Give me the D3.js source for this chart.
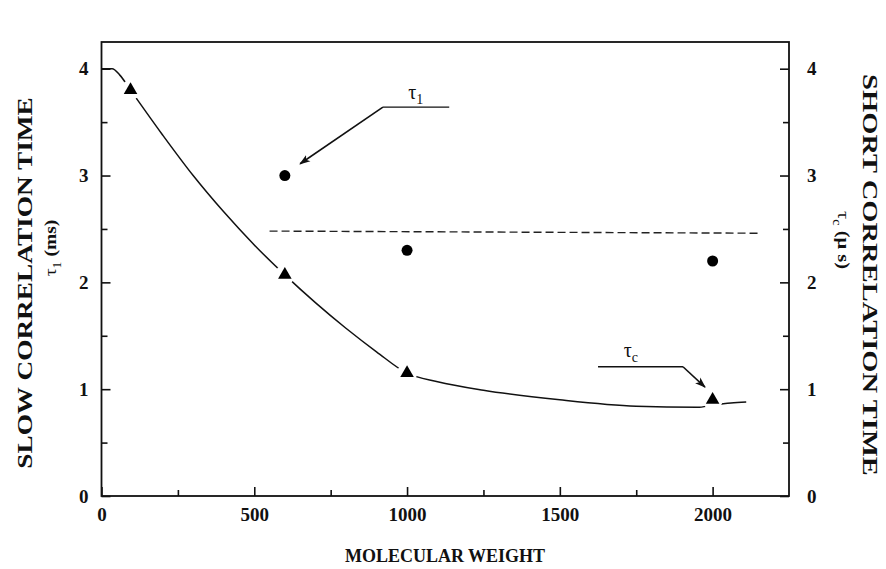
<!DOCTYPE html>
<html>
<head>
<meta charset="utf-8">
<script src="https://cdn.jsdelivr.net/npm/d3@7"></script>
<style>
  body { margin: 0; background: #fff; }
  text { font-family: "Liberation Serif", "Times New Roman", serif; fill: #111; }
  .tick text { font-size: 19px; font-weight: bold; }
</style>
</head>
<body>
<script>
// slow correlation time (circles), ms
var slowMw = [600, 1000, 2000];
var slowTau = [3.0, 2.3, 2.2];

// short correlation time (triangles), us
var shortMw = [95, 600, 1000, 2000];
var shortTau = [3.8, 2.07, 1.15, 0.9];

// hand-drawn curve through the triangles
var fitMw = [0, 35, 60, 95, 200, 300, 400, 500, 600, 700, 800, 900, 1000, 1100, 1250, 1500, 1750, 1950, 2000, 2060, 2110];
var fitTau = [4.0, 4.0, 3.94, 3.8, 3.38, 3.0, 2.66, 2.35, 2.07, 1.81, 1.57, 1.35, 1.15, 1.07, 0.99, 0.9, 0.84, 0.83, 0.85, 0.87, 0.88];

// dashed level line
var dashMw = [550, 2150];
var dashTau = [2.48, 2.46];

var xTicks = [0, 500, 1000, 1500, 2000];
var yTicks = [0, 1, 2, 3, 4];

var svgWidth = 886, svgHeight = 569;
var margin = {top: 42, right: 97, bottom: 73, left: 101.5};
var width = svgWidth - margin.left - margin.right,
	height = svgHeight - margin.top - margin.bottom;

var svg = d3.select("body").append("svg")
	.attr("width", svgWidth)
	.attr("height", svgHeight);

var g = svg.append("g")
	.attr("transform", "translate(" + margin.left + "," + margin.top + ")");

var x = d3.scaleLinear().domain([0, 2250]).range([0, width]);
var y = d3.scaleLinear().domain([0, 4.25]).range([height, 0]);

// arrow head
svg.append("defs").append("marker")
	.attr("id", "arrow")
	.attr("viewBox", "0 0 10 10")
	.attr("refX", 9).attr("refY", 5)
	.attr("markerWidth", 11).attr("markerHeight", 11)
	.attr("markerUnits", "userSpaceOnUse")
	.attr("orient", "auto")
	.append("path")
	.attr("d", "M0,1.5 L10,5 L0,8.5 L2.5,5 Z")
	.attr("fill", "#111");

// axes, ticks pointing inward
function styleAxis(sel) {
	sel.select(".domain").remove();
	sel.selectAll(".tick line").attr("stroke", "#111").attr("stroke-width", 1.6);
}

g.append("g").attr("transform", "translate(0," + height + ")")
	.call(d3.axisBottom(x).tickValues(xTicks).tickSize(-9).tickPadding(12).tickFormat(d3.format("d")))
	.call(styleAxis);
g.append("g").attr("transform", "translate(0," + height + ")")
	.call(d3.axisBottom(x).tickValues([250, 750, 1250, 1750]).tickSize(-6).tickFormat(""))
	.call(styleAxis);

g.append("g")
	.call(d3.axisLeft(y).tickValues(yTicks).tickSize(-9).tickPadding(13).tickFormat(d3.format("d")))
	.call(styleAxis);
g.append("g")
	.call(d3.axisLeft(y).tickValues([0.5, 1.5, 2.5, 3.5]).tickSize(-6).tickFormat(""))
	.call(styleAxis);

g.append("g").attr("transform", "translate(" + width + ",0)")
	.call(d3.axisRight(y).tickValues(yTicks).tickSize(-9).tickPadding(18).tickFormat(d3.format("d")))
	.call(styleAxis);
g.append("g").attr("transform", "translate(" + width + ",0)")
	.call(d3.axisRight(y).tickValues([0.5, 1.5, 2.5, 3.5]).tickSize(-6).tickFormat(""))
	.call(styleAxis);

g.selectAll(".tick text").attr("fill", "#111");

g.append("rect")
	.attr("width", width).attr("height", height)
	.attr("fill", "none").attr("stroke", "#111").attr("stroke-width", 1.8);

// fitted curve
var line = d3.line()
	.x(function(d) { return x(d[0]); })
	.y(function(d) { return y(d[1]); })
	.curve(d3.curveMonotoneX);

g.append("path")
	.datum(d3.zip(fitMw, fitTau))
	.attr("d", line)
	.attr("fill", "none")
	.attr("stroke", "#111")
	.attr("stroke-width", 1.5);

// dashed line
g.append("path")
	.datum(d3.zip(dashMw, dashTau))
	.attr("d", d3.line().x(function(d) { return x(d[0]); }).y(function(d) { return y(d[1]); }))
	.attr("fill", "none")
	.attr("stroke", "#222")
	.attr("stroke-width", 1.4)
	.attr("stroke-dasharray", "8,4");

// triangles with a white gap around them
var tri = g.selectAll(".tri")
	.data(d3.zip(shortMw, shortTau))
	.enter().append("g")
	.attr("class", "tri")
	.attr("transform", function(d) { return "translate(" + x(d[0]) + "," + y(d[1]) + ")"; });

tri.append("circle").attr("r", 10).attr("fill", "#fff");
tri.append("path")
	.attr("d", d3.symbol().type(d3.symbolTriangle).size(80))
	.attr("fill", "#000");

// circles
g.selectAll(".dot")
	.data(d3.zip(slowMw, slowTau))
	.enter().append("circle")
	.attr("class", "dot")
	.attr("cx", function(d) { return x(d[0]); })
	.attr("cy", function(d) { return y(d[1]); })
	.attr("r", 5.5)
	.attr("fill", "#000");

// annotations
function pt(mw, t) { return [x(mw), y(t)]; }

function annotate(lineA, lineB, tip, labelPos, sub) {
	g.append("path")
		.attr("d", "M" + lineB + "L" + lineA)
		.attr("fill", "none").attr("stroke", "#111").attr("stroke-width", 1.4);
	g.append("line")
		.attr("x1", lineA[0]).attr("y1", lineA[1])
		.attr("x2", tip[0]).attr("y2", tip[1])
		.attr("stroke", "#111").attr("stroke-width", 1.6)
		.attr("marker-end", "url(#arrow)");
	var t = g.append("text")
		.attr("x", labelPos[0]).attr("y", labelPos[1])
		.style("font-size", "20px");
	t.append("tspan").text("\u03c4");
	t.append("tspan").attr("dy", 5).style("font-size", "14px").text(sub);
}

annotate(pt(921, 3.64), pt(1138, 3.64), pt(650, 3.11), [x(1030) - 8, y(3.64) - 8], "1");
annotate(pt(1903, 1.21), pt(1625, 1.21), pt(1975, 1.02), [x(1735) - 8, y(1.21) - 10], "c");

// axis titles
svg.append("text")
	.attr("x", 445)
	.attr("y", 562)
	.attr("text-anchor", "middle")
	.style("font-size", "18px").style("font-weight", "bold")
	.text("MOLECULAR WEIGHT");

svg.append("text")
	.attr("transform", "translate(32,283) rotate(-90) scale(1.3,1)")
	.attr("text-anchor", "middle")
	.style("font-size", "21px").style("font-weight", "bold")
	.text("SLOW  CORRELATION TIME");

var lt = svg.append("text")
	.attr("transform", "translate(56,248) rotate(-90) scale(1.15,1)")
	.attr("text-anchor", "middle")
	.style("font-size", "17px");
lt.append("tspan").text("\u03c4");
lt.append("tspan").attr("dy", 5).style("font-size", "12px").text("1");
lt.append("tspan").attr("dy", -5).style("font-weight", "bold").text(" (ms)");

svg.append("text")
	.attr("transform", "translate(863,275) rotate(90) scale(1.36,1)")
	.attr("text-anchor", "middle")
	.style("font-size", "21px").style("font-weight", "bold")
	.text("SHORT  CORRELATION TIME");

var rt = svg.append("text")
	.attr("transform", "translate(838,240) rotate(90) scale(1.2,1)")
	.attr("text-anchor", "middle")
	.style("font-size", "17px");
rt.append("tspan").text("\u03c4");
rt.append("tspan").attr("dy", 5).style("font-size", "12px").text("c");
rt.append("tspan").attr("dy", -5).style("font-weight", "bold").text(" (\u03bc s)");
</script>
</body>
</html>
